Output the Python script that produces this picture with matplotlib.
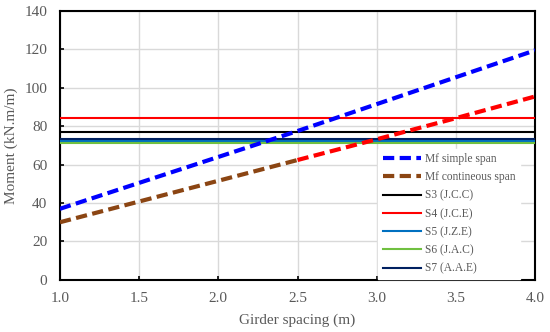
import matplotlib.pyplot as plt

# ---------------------------------------------------------
# Data
# ---------------------------------------------------------
girder_spacing = [1.0, 1.5, 2.0, 2.5, 3.0, 3.5, 4.0]
mf_simple = [37, 50.5, 64, 77.5, 91.5, 105.5, 119.5]
mf_continuous = [30, 40.8, 51.6, 62.4, 73.2, 84.2, 95.5]

# constant moment capacities of the sections
section_names = ['S3 (J.C.C)', 'S4 (J.C.E)', 'S5 (J.Z.E)', 'S6 (J.A.C)', 'S7 (A.A.E)']
section_moments = [77, 84.5, 72.5, 71, 73.5]
section_colors = ['#000000', '#ff0000', '#0070c0', '#70c040', '#002060']

plt.rcParams['font.family'] = ['Liberation Serif', 'DejaVu Serif']

fig = plt.figure(figsize=(5.5, 3.32), dpi=100)
ax = fig.add_axes([0.109, 0.157, 0.864, 0.81])

dash = (0, (2.7, 1.3))
ax.plot(girder_spacing, mf_simple, color='#0000ff', lw=3, linestyle=dash,
        label='Mf simple span', zorder=5)
# continuous span: brown on the first half, red on the second
ax.plot(girder_spacing[:4], mf_continuous[:4], color='#8b4513', lw=3, linestyle=dash,
        label='Mf contineous span', zorder=5)
ax.plot(girder_spacing[3:], mf_continuous[3:], color='#ff0000', lw=3, linestyle=dash,
        zorder=5)

for name, m, c in zip(section_names, section_moments, section_colors):
    ax.axhline(m, color=c, lw=1.5, label=name, zorder=3)

ax.set_xlim(1.0, 4.0)
ax.set_ylim(0, 140)
ax.set_xticks(girder_spacing)
ax.set_xticklabels([f'{v:.1f}' for v in girder_spacing])
ax.set_yticks(range(0, 141, 20))

ax.grid(True, color='#d9d9d9', lw=1)
ax.set_axisbelow(True)
for s in ax.spines.values():
    s.set_linewidth(1.5)
    s.set_color('black')
ax.tick_params(direction='in', length=3, width=1.2, colors='black',
               labelcolor='#595959', labelsize=11, pad=9)

ax.set_xlabel('Girder spacing (m)', fontsize=11, color='#595959', labelpad=6)
ax.set_ylabel('Moment (kN.m/m)', fontsize=11, color='#595959', labelpad=5)

leg = ax.legend(loc='upper left', bbox_to_anchor=(0.670, 0.488), fontsize=8.3,
                frameon=True, framealpha=1, edgecolor='white', fancybox=False,
                handlelength=3.3, handletextpad=0.35, labelspacing=0.54,
                borderpad=0.4, borderaxespad=0)
for t in leg.get_texts():
    t.set_color('#595959')
leg.set_zorder(10)

plt.savefig('out.png', dpi=100)
plt.close()
